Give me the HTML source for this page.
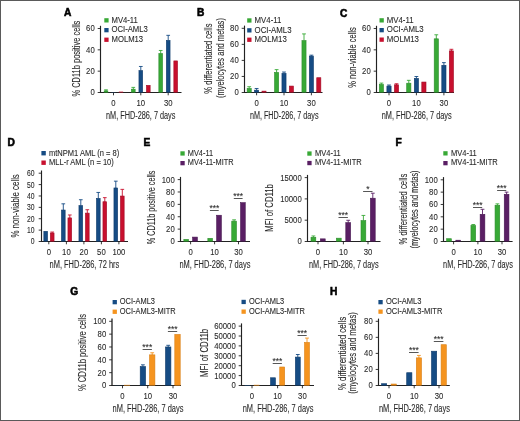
<!DOCTYPE html>
<html><head><meta charset="utf-8"><style>
html,body{margin:0;padding:0;background:#fff;}
body{width:520px;height:421px;overflow:hidden;}
svg{display:block;font-family:"Liberation Sans", sans-serif;will-change:transform;}
text{fill:#2a2a2a;font-variant-ligatures:none;stroke:#2a2a2a;stroke-width:0.1px;}
</style></head><body>
<svg width="520" height="421" viewBox="0 0 520 421">
<rect x="0" y="0" width="520" height="421" fill="#fff"/>
<text font-size="10.0" text-anchor="start" font-weight="bold" fill="#000" transform="translate(64.10 16.40) scale(1.02 1)" style="stroke:#000;stroke-width:0.55px;fill:#000">A</text>
<rect x="104.30" y="18.20" width="4.30" height="4.30" fill="#38a936"/>
<text font-size="8.2" text-anchor="start" transform="translate(111.50 22.60) scale(0.94 1)">MV4-11</text>
<rect x="104.30" y="28.00" width="4.30" height="4.30" fill="#164c84"/>
<text font-size="8.2" text-anchor="start" transform="translate(111.50 32.40) scale(0.94 1)">OCI-AML3</text>
<rect x="104.30" y="37.60" width="4.30" height="4.30" fill="#c8102e"/>
<text font-size="8.2" text-anchor="start" transform="translate(111.50 42.00) scale(0.94 1)">MOLM13</text>
<line x1="100.50" y1="25.80" x2="100.50" y2="93.00" stroke="#222" stroke-width="1.15"/>
<line x1="97.70" y1="92.50" x2="100.50" y2="92.50" stroke="#222" stroke-width="0.9"/>
<text font-size="9.2" text-anchor="end" transform="translate(94.70 95.44) scale(0.84 1)">0</text>
<line x1="97.70" y1="71.17" x2="100.50" y2="71.17" stroke="#222" stroke-width="0.9"/>
<text font-size="9.2" text-anchor="end" transform="translate(94.70 74.11) scale(0.84 1)">20</text>
<line x1="97.70" y1="49.83" x2="100.50" y2="49.83" stroke="#222" stroke-width="0.9"/>
<text font-size="9.2" text-anchor="end" transform="translate(94.70 52.78) scale(0.84 1)">40</text>
<line x1="97.70" y1="28.50" x2="100.50" y2="28.50" stroke="#222" stroke-width="0.9"/>
<text font-size="9.2" text-anchor="end" transform="translate(94.70 31.44) scale(0.84 1)">60</text>
<line x1="99.95" y1="92.50" x2="181.50" y2="92.50" stroke="#222" stroke-width="1.1"/>
<line x1="113.50" y1="92.50" x2="113.50" y2="95.30" stroke="#222" stroke-width="0.9"/>
<text font-size="9.2" text-anchor="middle" transform="translate(113.50 105.60) scale(0.84 1)">0</text>
<line x1="140.80" y1="92.50" x2="140.80" y2="95.30" stroke="#222" stroke-width="0.9"/>
<text font-size="9.2" text-anchor="middle" transform="translate(140.80 105.60) scale(0.84 1)">10</text>
<line x1="168.20" y1="92.50" x2="168.20" y2="95.30" stroke="#222" stroke-width="0.9"/>
<text font-size="9.2" text-anchor="middle" transform="translate(168.20 105.60) scale(0.84 1)">30</text>
<line x1="106.00" y1="89.83" x2="106.00" y2="91.08" stroke="#38a936" stroke-width="0.9"/>
<line x1="104.15" y1="89.83" x2="107.85" y2="89.83" stroke="#38a936" stroke-width="0.9"/>
<rect x="104.15" y="90.88" width="3.70" height="1.32" fill="#38a936" stroke="#2c8c2c" stroke-width="0.6"/>
<rect x="111.35" y="92.18" width="4.30" height="0.32" fill="#164c84"/>
<rect x="118.85" y="91.65" width="4.30" height="0.85" fill="#c8102e"/>
<line x1="133.30" y1="87.38" x2="133.30" y2="89.37" stroke="#38a936" stroke-width="0.9"/>
<line x1="131.45" y1="87.38" x2="135.15" y2="87.38" stroke="#38a936" stroke-width="0.9"/>
<rect x="131.45" y="89.17" width="3.70" height="3.03" fill="#38a936" stroke="#2c8c2c" stroke-width="0.6"/>
<line x1="140.80" y1="66.47" x2="140.80" y2="70.81" stroke="#164c84" stroke-width="0.9"/>
<line x1="138.95" y1="66.47" x2="142.65" y2="66.47" stroke="#164c84" stroke-width="0.9"/>
<rect x="138.95" y="70.61" width="3.70" height="21.59" fill="#164c84" stroke="#0e3a6a" stroke-width="0.6"/>
<rect x="146.45" y="85.33" width="3.70" height="6.87" fill="#c8102e" stroke="#a00c26" stroke-width="0.6"/>
<line x1="160.70" y1="50.47" x2="160.70" y2="53.75" stroke="#38a936" stroke-width="0.9"/>
<line x1="158.85" y1="50.47" x2="162.55" y2="50.47" stroke="#38a936" stroke-width="0.9"/>
<rect x="158.85" y="53.55" width="3.70" height="38.65" fill="#38a936" stroke="#2c8c2c" stroke-width="0.6"/>
<line x1="168.20" y1="35.33" x2="168.20" y2="40.63" stroke="#164c84" stroke-width="0.9"/>
<line x1="166.35" y1="35.33" x2="170.05" y2="35.33" stroke="#164c84" stroke-width="0.9"/>
<rect x="166.35" y="40.43" width="3.70" height="51.77" fill="#164c84" stroke="#0e3a6a" stroke-width="0.6"/>
<rect x="173.85" y="60.91" width="3.70" height="31.29" fill="#c8102e" stroke="#a00c26" stroke-width="0.6"/>
<text font-size="10" text-anchor="middle" textLength="69.40" lengthAdjust="spacingAndGlyphs" transform="translate(140.70 119.00)">nM, FHD-286, 7 days</text>
<text font-size="10.2" text-anchor="middle" textLength="75.90" lengthAdjust="spacingAndGlyphs" transform="translate(79.60 58.60) rotate(-90)">% CD11b positive cells</text>
<text font-size="10.0" text-anchor="start" font-weight="bold" fill="#000" transform="translate(197.10 16.00) scale(1.02 1)" style="stroke:#000;stroke-width:0.55px;fill:#000">B</text>
<rect x="247.20" y="18.30" width="4.30" height="4.30" fill="#38a936"/>
<text font-size="8.2" text-anchor="start" transform="translate(254.60 22.70) scale(0.955 1)">MV4-11</text>
<rect x="247.20" y="28.20" width="4.30" height="4.30" fill="#164c84"/>
<text font-size="8.2" text-anchor="start" transform="translate(254.60 32.60) scale(0.955 1)">OCI-AML3</text>
<rect x="247.20" y="37.60" width="4.30" height="4.30" fill="#c8102e"/>
<text font-size="8.2" text-anchor="start" transform="translate(254.60 42.00) scale(0.955 1)">MOLM13</text>
<line x1="244.50" y1="25.60" x2="244.50" y2="93.00" stroke="#222" stroke-width="1.15"/>
<line x1="241.70" y1="92.50" x2="244.50" y2="92.50" stroke="#222" stroke-width="0.9"/>
<text font-size="9.2" text-anchor="end" transform="translate(238.70 95.44) scale(0.84 1)">0</text>
<line x1="241.70" y1="76.45" x2="244.50" y2="76.45" stroke="#222" stroke-width="0.9"/>
<text font-size="9.2" text-anchor="end" transform="translate(238.70 79.39) scale(0.84 1)">20</text>
<line x1="241.70" y1="60.40" x2="244.50" y2="60.40" stroke="#222" stroke-width="0.9"/>
<text font-size="9.2" text-anchor="end" transform="translate(238.70 63.34) scale(0.84 1)">40</text>
<line x1="241.70" y1="44.35" x2="244.50" y2="44.35" stroke="#222" stroke-width="0.9"/>
<text font-size="9.2" text-anchor="end" transform="translate(238.70 47.29) scale(0.84 1)">60</text>
<line x1="241.70" y1="28.30" x2="244.50" y2="28.30" stroke="#222" stroke-width="0.9"/>
<text font-size="9.2" text-anchor="end" transform="translate(238.70 31.24) scale(0.84 1)">80</text>
<line x1="243.95" y1="92.50" x2="322.50" y2="92.50" stroke="#222" stroke-width="1.1"/>
<line x1="256.60" y1="92.50" x2="256.60" y2="95.30" stroke="#222" stroke-width="0.9"/>
<text font-size="9.2" text-anchor="middle" transform="translate(256.60 105.60) scale(0.84 1)">0</text>
<line x1="284.00" y1="92.50" x2="284.00" y2="95.30" stroke="#222" stroke-width="0.9"/>
<text font-size="9.2" text-anchor="middle" transform="translate(284.00 105.60) scale(0.84 1)">10</text>
<line x1="311.40" y1="92.50" x2="311.40" y2="95.30" stroke="#222" stroke-width="0.9"/>
<text font-size="9.2" text-anchor="middle" transform="translate(311.40 105.60) scale(0.84 1)">30</text>
<line x1="249.20" y1="86.72" x2="249.20" y2="88.67" stroke="#38a936" stroke-width="0.9"/>
<line x1="247.30" y1="86.72" x2="251.10" y2="86.72" stroke="#38a936" stroke-width="0.9"/>
<rect x="247.15" y="88.47" width="4.10" height="3.73" fill="#38a936" stroke="#2c8c2c" stroke-width="0.6"/>
<line x1="256.60" y1="88.49" x2="256.60" y2="90.35" stroke="#164c84" stroke-width="0.9"/>
<line x1="254.70" y1="88.49" x2="258.50" y2="88.49" stroke="#164c84" stroke-width="0.9"/>
<rect x="254.55" y="90.15" width="4.10" height="2.05" fill="#164c84" stroke="#0e3a6a" stroke-width="0.6"/>
<rect x="261.95" y="91.11" width="4.10" height="1.09" fill="#c8102e" stroke="#a00c26" stroke-width="0.6"/>
<line x1="276.60" y1="69.63" x2="276.60" y2="72.62" stroke="#38a936" stroke-width="0.9"/>
<line x1="274.70" y1="69.63" x2="278.50" y2="69.63" stroke="#38a936" stroke-width="0.9"/>
<rect x="274.55" y="72.42" width="4.10" height="19.78" fill="#38a936" stroke="#2c8c2c" stroke-width="0.6"/>
<line x1="284.00" y1="72.04" x2="284.00" y2="73.58" stroke="#164c84" stroke-width="0.9"/>
<line x1="282.10" y1="72.04" x2="285.90" y2="72.04" stroke="#164c84" stroke-width="0.9"/>
<rect x="281.95" y="73.38" width="4.10" height="18.82" fill="#164c84" stroke="#0e3a6a" stroke-width="0.6"/>
<rect x="289.35" y="86.06" width="4.10" height="6.14" fill="#c8102e" stroke="#a00c26" stroke-width="0.6"/>
<line x1="304.00" y1="33.92" x2="304.00" y2="40.84" stroke="#38a936" stroke-width="0.9"/>
<line x1="302.10" y1="33.92" x2="305.90" y2="33.92" stroke="#38a936" stroke-width="0.9"/>
<rect x="301.95" y="40.64" width="4.10" height="51.56" fill="#38a936" stroke="#2c8c2c" stroke-width="0.6"/>
<line x1="311.40" y1="55.18" x2="311.40" y2="56.33" stroke="#164c84" stroke-width="0.9"/>
<line x1="309.50" y1="55.18" x2="313.30" y2="55.18" stroke="#164c84" stroke-width="0.9"/>
<rect x="309.35" y="56.13" width="4.10" height="36.07" fill="#164c84" stroke="#0e3a6a" stroke-width="0.6"/>
<rect x="316.75" y="77.71" width="4.10" height="14.49" fill="#c8102e" stroke="#a00c26" stroke-width="0.6"/>
<text font-size="10" text-anchor="middle" textLength="68.60" lengthAdjust="spacingAndGlyphs" transform="translate(284.20 119.00)">nM, FHD-286, 7 days</text>
<text font-size="10.2" text-anchor="middle" textLength="70.20" lengthAdjust="spacingAndGlyphs" transform="translate(212.40 58.60) rotate(-90)">% differentiated cells</text>
<text font-size="10.2" text-anchor="middle" textLength="80.00" lengthAdjust="spacingAndGlyphs" transform="translate(223.50 58.10) rotate(-90)">(myelocytes and metas)</text>
<text font-size="10.0" text-anchor="start" font-weight="bold" fill="#000" transform="translate(340.10 16.60) scale(1.02 1)" style="stroke:#000;stroke-width:0.55px;fill:#000">C</text>
<rect x="379.50" y="18.20" width="4.30" height="4.30" fill="#38a936"/>
<text font-size="8.2" text-anchor="start" transform="translate(386.80 22.60) scale(0.955 1)">MV4-11</text>
<rect x="379.50" y="28.00" width="4.30" height="4.30" fill="#164c84"/>
<text font-size="8.2" text-anchor="start" transform="translate(386.80 32.40) scale(0.955 1)">OCI-AML3</text>
<rect x="379.50" y="37.50" width="4.30" height="4.30" fill="#c8102e"/>
<text font-size="8.2" text-anchor="start" transform="translate(386.80 41.90) scale(0.955 1)">MOLM13</text>
<line x1="376.50" y1="25.80" x2="376.50" y2="93.00" stroke="#222" stroke-width="1.15"/>
<line x1="373.70" y1="92.50" x2="376.50" y2="92.50" stroke="#222" stroke-width="0.9"/>
<text font-size="9.2" text-anchor="end" transform="translate(370.70 95.44) scale(0.84 1)">0</text>
<line x1="373.70" y1="71.17" x2="376.50" y2="71.17" stroke="#222" stroke-width="0.9"/>
<text font-size="9.2" text-anchor="end" transform="translate(370.70 74.11) scale(0.84 1)">20</text>
<line x1="373.70" y1="49.83" x2="376.50" y2="49.83" stroke="#222" stroke-width="0.9"/>
<text font-size="9.2" text-anchor="end" transform="translate(370.70 52.78) scale(0.84 1)">40</text>
<line x1="373.70" y1="28.50" x2="376.50" y2="28.50" stroke="#222" stroke-width="0.9"/>
<text font-size="9.2" text-anchor="end" transform="translate(370.70 31.44) scale(0.84 1)">60</text>
<line x1="375.95" y1="92.50" x2="454.00" y2="92.50" stroke="#222" stroke-width="1.1"/>
<line x1="389.00" y1="92.50" x2="389.00" y2="95.30" stroke="#222" stroke-width="0.9"/>
<text font-size="9.2" text-anchor="middle" transform="translate(389.00 105.60) scale(0.84 1)">0</text>
<line x1="416.40" y1="92.50" x2="416.40" y2="95.30" stroke="#222" stroke-width="0.9"/>
<text font-size="9.2" text-anchor="middle" transform="translate(416.40 105.60) scale(0.84 1)">10</text>
<line x1="443.90" y1="92.50" x2="443.90" y2="95.30" stroke="#222" stroke-width="0.9"/>
<text font-size="9.2" text-anchor="middle" transform="translate(443.90 105.60) scale(0.84 1)">30</text>
<line x1="381.40" y1="83.11" x2="381.40" y2="84.68" stroke="#38a936" stroke-width="0.9"/>
<line x1="379.50" y1="83.11" x2="383.30" y2="83.11" stroke="#38a936" stroke-width="0.9"/>
<rect x="379.30" y="84.48" width="4.20" height="7.72" fill="#38a936" stroke="#2c8c2c" stroke-width="0.6"/>
<line x1="389.00" y1="85.03" x2="389.00" y2="86.28" stroke="#164c84" stroke-width="0.9"/>
<line x1="387.10" y1="85.03" x2="390.90" y2="85.03" stroke="#164c84" stroke-width="0.9"/>
<rect x="386.90" y="86.08" width="4.20" height="6.12" fill="#164c84" stroke="#0e3a6a" stroke-width="0.6"/>
<line x1="396.50" y1="83.75" x2="396.50" y2="85.00" stroke="#c8102e" stroke-width="0.9"/>
<line x1="394.60" y1="83.75" x2="398.40" y2="83.75" stroke="#c8102e" stroke-width="0.9"/>
<rect x="394.40" y="84.80" width="4.20" height="7.40" fill="#c8102e" stroke="#a00c26" stroke-width="0.6"/>
<line x1="408.80" y1="80.34" x2="408.80" y2="83.40" stroke="#38a936" stroke-width="0.9"/>
<line x1="406.90" y1="80.34" x2="410.70" y2="80.34" stroke="#38a936" stroke-width="0.9"/>
<rect x="406.70" y="83.20" width="4.20" height="9.00" fill="#38a936" stroke="#2c8c2c" stroke-width="0.6"/>
<line x1="416.40" y1="76.50" x2="416.40" y2="78.60" stroke="#164c84" stroke-width="0.9"/>
<line x1="414.50" y1="76.50" x2="418.30" y2="76.50" stroke="#164c84" stroke-width="0.9"/>
<rect x="414.30" y="78.40" width="4.20" height="13.80" fill="#164c84" stroke="#0e3a6a" stroke-width="0.6"/>
<rect x="421.80" y="82.03" width="4.20" height="10.17" fill="#c8102e" stroke="#a00c26" stroke-width="0.6"/>
<line x1="436.30" y1="34.79" x2="436.30" y2="39.03" stroke="#38a936" stroke-width="0.9"/>
<line x1="434.40" y1="34.79" x2="438.20" y2="34.79" stroke="#38a936" stroke-width="0.9"/>
<rect x="434.20" y="38.83" width="4.20" height="53.37" fill="#38a936" stroke="#2c8c2c" stroke-width="0.6"/>
<line x1="443.90" y1="62.63" x2="443.90" y2="65.48" stroke="#164c84" stroke-width="0.9"/>
<line x1="442.00" y1="62.63" x2="445.80" y2="62.63" stroke="#164c84" stroke-width="0.9"/>
<rect x="441.80" y="65.28" width="4.20" height="26.92" fill="#164c84" stroke="#0e3a6a" stroke-width="0.6"/>
<line x1="451.40" y1="49.30" x2="451.40" y2="51.08" stroke="#c8102e" stroke-width="0.9"/>
<line x1="449.50" y1="49.30" x2="453.30" y2="49.30" stroke="#c8102e" stroke-width="0.9"/>
<rect x="449.30" y="50.88" width="4.20" height="41.32" fill="#c8102e" stroke="#a00c26" stroke-width="0.6"/>
<text font-size="10" text-anchor="middle" textLength="70.00" lengthAdjust="spacingAndGlyphs" transform="translate(416.70 119.00)">nM, FHD-286, 7 days</text>
<text font-size="10.2" text-anchor="middle" textLength="60.40" lengthAdjust="spacingAndGlyphs" transform="translate(355.60 57.55) rotate(-90)">% non-viable cells</text>
<text font-size="10.0" text-anchor="start" font-weight="bold" fill="#000" transform="translate(7.50 145.80) scale(1.02 1)" style="stroke:#000;stroke-width:0.55px;fill:#000">D</text>
<rect x="41.40" y="151.00" width="4.40" height="4.40" fill="#164c84"/>
<text font-size="8.2" text-anchor="start" transform="translate(49.00 155.50) scale(0.92 1)">mtNPM1 AML (n = 8)</text>
<rect x="41.40" y="160.50" width="4.40" height="4.40" fill="#c8102e"/>
<text font-size="8.2" text-anchor="start" transform="translate(49.00 165.00) scale(0.92 1)">MLL-r AML (n = 10)</text>
<line x1="41.50" y1="170.50" x2="41.50" y2="242.00" stroke="#222" stroke-width="1.15"/>
<line x1="38.70" y1="241.50" x2="41.50" y2="241.50" stroke="#222" stroke-width="0.9"/>
<text font-size="9.2" text-anchor="end" transform="translate(34.60 244.44) scale(0.74 1)">0</text>
<line x1="38.70" y1="230.12" x2="41.50" y2="230.12" stroke="#222" stroke-width="0.9"/>
<text font-size="9.2" text-anchor="end" transform="translate(34.60 233.06) scale(0.74 1)">10</text>
<line x1="38.70" y1="218.73" x2="41.50" y2="218.73" stroke="#222" stroke-width="0.9"/>
<text font-size="9.2" text-anchor="end" transform="translate(34.60 221.68) scale(0.74 1)">20</text>
<line x1="38.70" y1="207.35" x2="41.50" y2="207.35" stroke="#222" stroke-width="0.9"/>
<text font-size="9.2" text-anchor="end" transform="translate(34.60 210.29) scale(0.74 1)">30</text>
<line x1="38.70" y1="195.97" x2="41.50" y2="195.97" stroke="#222" stroke-width="0.9"/>
<text font-size="9.2" text-anchor="end" transform="translate(34.60 198.91) scale(0.74 1)">40</text>
<line x1="38.70" y1="184.58" x2="41.50" y2="184.58" stroke="#222" stroke-width="0.9"/>
<text font-size="9.2" text-anchor="end" transform="translate(34.60 187.53) scale(0.74 1)">50</text>
<line x1="38.70" y1="173.20" x2="41.50" y2="173.20" stroke="#222" stroke-width="0.9"/>
<text font-size="9.2" text-anchor="end" transform="translate(34.60 176.14) scale(0.74 1)">60</text>
<line x1="40.95" y1="241.50" x2="128.00" y2="241.50" stroke="#222" stroke-width="1.1"/>
<line x1="48.80" y1="241.50" x2="48.80" y2="244.30" stroke="#222" stroke-width="0.9"/>
<text font-size="9.2" text-anchor="middle" transform="translate(48.80 254.60) scale(0.84 1)">0</text>
<line x1="66.40" y1="241.50" x2="66.40" y2="244.30" stroke="#222" stroke-width="0.9"/>
<text font-size="9.2" text-anchor="middle" transform="translate(66.40 254.60) scale(0.84 1)">10</text>
<line x1="83.90" y1="241.50" x2="83.90" y2="244.30" stroke="#222" stroke-width="0.9"/>
<text font-size="9.2" text-anchor="middle" transform="translate(83.90 254.60) scale(0.84 1)">20</text>
<line x1="101.40" y1="241.50" x2="101.40" y2="244.30" stroke="#222" stroke-width="0.9"/>
<text font-size="9.2" text-anchor="middle" transform="translate(101.40 254.60) scale(0.84 1)">50</text>
<line x1="118.90" y1="241.50" x2="118.90" y2="244.30" stroke="#222" stroke-width="0.9"/>
<text font-size="9.2" text-anchor="middle" transform="translate(118.90 254.60) scale(0.84 1)">100</text>
<rect x="43.85" y="231.33" width="3.70" height="9.87" fill="#164c84" stroke="#0e3a6a" stroke-width="0.6"/>
<line x1="52.20" y1="232.05" x2="52.20" y2="233.23" stroke="#c8102e" stroke-width="0.9"/>
<line x1="50.35" y1="232.05" x2="54.05" y2="232.05" stroke="#c8102e" stroke-width="0.9"/>
<rect x="50.35" y="233.03" width="3.70" height="8.17" fill="#c8102e" stroke="#a00c26" stroke-width="0.6"/>
<line x1="63.30" y1="203.82" x2="63.30" y2="210.24" stroke="#164c84" stroke-width="0.9"/>
<line x1="61.45" y1="203.82" x2="65.15" y2="203.82" stroke="#164c84" stroke-width="0.9"/>
<rect x="61.45" y="210.04" width="3.70" height="31.16" fill="#164c84" stroke="#0e3a6a" stroke-width="0.6"/>
<line x1="69.80" y1="214.98" x2="69.80" y2="218.09" stroke="#c8102e" stroke-width="0.9"/>
<line x1="67.95" y1="214.98" x2="71.65" y2="214.98" stroke="#c8102e" stroke-width="0.9"/>
<rect x="67.95" y="217.90" width="3.70" height="23.30" fill="#c8102e" stroke="#a00c26" stroke-width="0.6"/>
<line x1="80.80" y1="199.72" x2="80.80" y2="205.80" stroke="#164c84" stroke-width="0.9"/>
<line x1="78.95" y1="199.72" x2="82.65" y2="199.72" stroke="#164c84" stroke-width="0.9"/>
<rect x="78.95" y="205.60" width="3.70" height="35.60" fill="#164c84" stroke="#0e3a6a" stroke-width="0.6"/>
<line x1="87.30" y1="209.74" x2="87.30" y2="213.31" stroke="#c8102e" stroke-width="0.9"/>
<line x1="85.45" y1="209.74" x2="89.15" y2="209.74" stroke="#c8102e" stroke-width="0.9"/>
<rect x="85.45" y="213.11" width="3.70" height="28.09" fill="#c8102e" stroke="#a00c26" stroke-width="0.6"/>
<line x1="98.30" y1="192.44" x2="98.30" y2="198.63" stroke="#164c84" stroke-width="0.9"/>
<line x1="96.45" y1="192.44" x2="100.15" y2="192.44" stroke="#164c84" stroke-width="0.9"/>
<rect x="96.45" y="198.43" width="3.70" height="42.77" fill="#164c84" stroke="#0e3a6a" stroke-width="0.6"/>
<line x1="104.80" y1="197.67" x2="104.80" y2="201.93" stroke="#c8102e" stroke-width="0.9"/>
<line x1="102.95" y1="197.67" x2="106.65" y2="197.67" stroke="#c8102e" stroke-width="0.9"/>
<rect x="102.95" y="201.73" width="3.70" height="39.47" fill="#c8102e" stroke="#a00c26" stroke-width="0.6"/>
<line x1="115.80" y1="181.17" x2="115.80" y2="188.16" stroke="#164c84" stroke-width="0.9"/>
<line x1="113.95" y1="181.17" x2="117.65" y2="181.17" stroke="#164c84" stroke-width="0.9"/>
<rect x="113.95" y="187.96" width="3.70" height="53.24" fill="#164c84" stroke="#0e3a6a" stroke-width="0.6"/>
<line x1="122.30" y1="189.36" x2="122.30" y2="196.24" stroke="#c8102e" stroke-width="0.9"/>
<line x1="120.45" y1="189.36" x2="124.15" y2="189.36" stroke="#c8102e" stroke-width="0.9"/>
<rect x="120.45" y="196.04" width="3.70" height="45.16" fill="#c8102e" stroke="#a00c26" stroke-width="0.6"/>
<text font-size="10" text-anchor="middle" textLength="69.80" lengthAdjust="spacingAndGlyphs" transform="translate(84.40 268.00)">nM, FHD-286, 72 hrs</text>
<text font-size="10.2" text-anchor="middle" textLength="63.40" lengthAdjust="spacingAndGlyphs" transform="translate(19.30 205.90) rotate(-90)">% non-viable cells</text>
<text font-size="10.0" text-anchor="start" font-weight="bold" fill="#000" transform="translate(143.50 145.80) scale(1.02 1)" style="stroke:#000;stroke-width:0.55px;fill:#000">E</text>
<rect x="180.40" y="151.30" width="4.30" height="4.30" fill="#38a936"/>
<text font-size="8.2" text-anchor="start" transform="translate(187.80 155.70) scale(0.9 1)">MV4-11</text>
<rect x="180.40" y="161.00" width="4.30" height="4.30" fill="#5a1f64"/>
<text font-size="8.2" text-anchor="start" transform="translate(187.80 165.40) scale(0.9 1)">MV4-11-MITR</text>
<line x1="180.50" y1="176.90" x2="180.50" y2="242.00" stroke="#222" stroke-width="1.15"/>
<line x1="177.70" y1="241.50" x2="180.50" y2="241.50" stroke="#222" stroke-width="0.9"/>
<text font-size="9.2" text-anchor="end" transform="translate(174.70 244.44) scale(0.84 1)">0</text>
<line x1="177.70" y1="229.12" x2="180.50" y2="229.12" stroke="#222" stroke-width="0.9"/>
<text font-size="9.2" text-anchor="end" transform="translate(174.70 232.06) scale(0.84 1)">20</text>
<line x1="177.70" y1="216.74" x2="180.50" y2="216.74" stroke="#222" stroke-width="0.9"/>
<text font-size="9.2" text-anchor="end" transform="translate(174.70 219.68) scale(0.84 1)">40</text>
<line x1="177.70" y1="204.36" x2="180.50" y2="204.36" stroke="#222" stroke-width="0.9"/>
<text font-size="9.2" text-anchor="end" transform="translate(174.70 207.30) scale(0.84 1)">60</text>
<line x1="177.70" y1="191.98" x2="180.50" y2="191.98" stroke="#222" stroke-width="0.9"/>
<text font-size="9.2" text-anchor="end" transform="translate(174.70 194.92) scale(0.84 1)">80</text>
<line x1="177.70" y1="179.60" x2="180.50" y2="179.60" stroke="#222" stroke-width="0.9"/>
<text font-size="9.2" text-anchor="end" transform="translate(174.70 182.54) scale(0.84 1)">100</text>
<line x1="179.95" y1="241.50" x2="250.00" y2="241.50" stroke="#222" stroke-width="1.1"/>
<line x1="190.60" y1="241.50" x2="190.60" y2="244.30" stroke="#222" stroke-width="0.9"/>
<text font-size="9.2" text-anchor="middle" transform="translate(190.60 255.00) scale(0.84 1)">0</text>
<line x1="214.60" y1="241.50" x2="214.60" y2="244.30" stroke="#222" stroke-width="0.9"/>
<text font-size="9.2" text-anchor="middle" transform="translate(214.60 255.00) scale(0.84 1)">10</text>
<line x1="238.50" y1="241.50" x2="238.50" y2="244.30" stroke="#222" stroke-width="0.9"/>
<text font-size="9.2" text-anchor="middle" transform="translate(238.50 255.00) scale(0.84 1)">30</text>
<rect x="183.85" y="239.39" width="4.70" height="1.81" fill="#38a936" stroke="#2c8c2c" stroke-width="0.6"/>
<rect x="192.65" y="237.10" width="4.70" height="4.10" fill="#5a1f64" stroke="#471650" stroke-width="0.6"/>
<rect x="207.85" y="238.33" width="4.70" height="2.87" fill="#38a936" stroke="#2c8c2c" stroke-width="0.6"/>
<rect x="216.65" y="215.24" width="4.70" height="25.96" fill="#5a1f64" stroke="#471650" stroke-width="0.6"/>
<line x1="234.10" y1="219.84" x2="234.10" y2="221.33" stroke="#38a936" stroke-width="0.9"/>
<line x1="232.20" y1="219.84" x2="236.00" y2="219.84" stroke="#38a936" stroke-width="0.9"/>
<rect x="231.75" y="221.13" width="4.70" height="20.07" fill="#38a936" stroke="#2c8c2c" stroke-width="0.6"/>
<rect x="240.55" y="202.68" width="4.70" height="38.52" fill="#5a1f64" stroke="#471650" stroke-width="0.6"/>
<line x1="209.90" y1="210.50" x2="218.70" y2="210.50" stroke="#444" stroke-width="0.9"/>
<text font-size="8.4" text-anchor="middle" fill="#333" transform="translate(214.30 211.00)">***</text>
<line x1="233.80" y1="198.50" x2="242.60" y2="198.50" stroke="#444" stroke-width="0.9"/>
<text font-size="8.4" text-anchor="middle" fill="#333" transform="translate(238.20 199.00)">***</text>
<text font-size="10" text-anchor="middle" textLength="71.00" lengthAdjust="spacingAndGlyphs" transform="translate(214.90 268.00)">nM, FHD-286, 7 days</text>
<text font-size="10.2" text-anchor="middle" textLength="73.50" lengthAdjust="spacingAndGlyphs" transform="translate(155.00 207.45) rotate(-90)">% CD11b positive cells</text>
<rect x="307.30" y="151.40" width="4.30" height="4.30" fill="#38a936"/>
<text font-size="8.2" text-anchor="start" transform="translate(315.00 155.80) scale(0.92 1)">MV4-11</text>
<rect x="307.30" y="160.90" width="4.30" height="4.30" fill="#5a1f64"/>
<text font-size="8.2" text-anchor="start" transform="translate(315.00 165.30) scale(0.92 1)">MV4-11-MITR</text>
<line x1="307.50" y1="174.90" x2="307.50" y2="242.00" stroke="#222" stroke-width="1.15"/>
<line x1="304.70" y1="241.50" x2="307.50" y2="241.50" stroke="#222" stroke-width="0.9"/>
<text font-size="9.2" text-anchor="end" transform="translate(301.70 244.44) scale(0.84 1)">0</text>
<line x1="304.70" y1="220.20" x2="307.50" y2="220.20" stroke="#222" stroke-width="0.9"/>
<text font-size="9.2" text-anchor="end" transform="translate(301.70 223.14) scale(0.84 1)">5000</text>
<line x1="304.70" y1="198.90" x2="307.50" y2="198.90" stroke="#222" stroke-width="0.9"/>
<text font-size="9.2" text-anchor="end" transform="translate(301.70 201.84) scale(0.84 1)">10000</text>
<line x1="304.70" y1="177.60" x2="307.50" y2="177.60" stroke="#222" stroke-width="0.9"/>
<text font-size="9.2" text-anchor="end" transform="translate(301.70 180.54) scale(0.84 1)">15000</text>
<line x1="306.95" y1="241.50" x2="380.50" y2="241.50" stroke="#222" stroke-width="1.1"/>
<line x1="318.00" y1="241.50" x2="318.00" y2="244.30" stroke="#222" stroke-width="0.9"/>
<text font-size="9.2" text-anchor="middle" transform="translate(318.00 255.00) scale(0.84 1)">0</text>
<line x1="343.40" y1="241.50" x2="343.40" y2="244.30" stroke="#222" stroke-width="0.9"/>
<text font-size="9.2" text-anchor="middle" transform="translate(343.40 255.00) scale(0.84 1)">10</text>
<line x1="368.00" y1="241.50" x2="368.00" y2="244.30" stroke="#222" stroke-width="0.9"/>
<text font-size="9.2" text-anchor="middle" transform="translate(368.00 255.00) scale(0.84 1)">30</text>
<line x1="313.40" y1="235.96" x2="313.40" y2="237.48" stroke="#38a936" stroke-width="0.9"/>
<line x1="311.50" y1="235.96" x2="315.30" y2="235.96" stroke="#38a936" stroke-width="0.9"/>
<rect x="311.00" y="237.28" width="4.80" height="3.92" fill="#38a936" stroke="#2c8c2c" stroke-width="0.6"/>
<rect x="320.40" y="238.86" width="4.80" height="2.34" fill="#5a1f64" stroke="#471650" stroke-width="0.6"/>
<rect x="336.40" y="238.18" width="4.80" height="3.02" fill="#38a936" stroke="#2c8c2c" stroke-width="0.6"/>
<line x1="348.20" y1="220.29" x2="348.20" y2="222.87" stroke="#5a1f64" stroke-width="0.9"/>
<line x1="346.30" y1="220.29" x2="350.10" y2="220.29" stroke="#5a1f64" stroke-width="0.9"/>
<rect x="345.80" y="222.67" width="4.80" height="18.53" fill="#5a1f64" stroke="#471650" stroke-width="0.6"/>
<line x1="363.40" y1="215.43" x2="363.40" y2="220.79" stroke="#38a936" stroke-width="0.9"/>
<line x1="361.50" y1="215.43" x2="365.30" y2="215.43" stroke="#38a936" stroke-width="0.9"/>
<rect x="361.00" y="220.59" width="4.80" height="20.61" fill="#38a936" stroke="#2c8c2c" stroke-width="0.6"/>
<line x1="372.80" y1="193.19" x2="372.80" y2="198.42" stroke="#5a1f64" stroke-width="0.9"/>
<line x1="370.90" y1="193.19" x2="374.70" y2="193.19" stroke="#5a1f64" stroke-width="0.9"/>
<rect x="370.40" y="198.22" width="4.80" height="42.98" fill="#5a1f64" stroke="#471650" stroke-width="0.6"/>
<line x1="338.50" y1="217.50" x2="347.90" y2="217.50" stroke="#444" stroke-width="0.9"/>
<text font-size="8.4" text-anchor="middle" fill="#333" transform="translate(343.20 218.00)">***</text>
<line x1="363.10" y1="191.50" x2="372.50" y2="191.50" stroke="#444" stroke-width="0.9"/>
<text font-size="8.4" text-anchor="middle" fill="#333" transform="translate(367.80 192.00)">*</text>
<text font-size="10" text-anchor="middle" textLength="69.50" lengthAdjust="spacingAndGlyphs" transform="translate(343.80 268.00)">nM, FHD-286, 7 days</text>
<text font-size="10.2" text-anchor="middle" textLength="47.50" lengthAdjust="spacingAndGlyphs" transform="translate(273.00 207.95) rotate(-90)">MFI of CD11b</text>
<text font-size="10.0" text-anchor="start" font-weight="bold" fill="#000" transform="translate(395.50 145.80) scale(1.02 1)" style="stroke:#000;stroke-width:0.55px;fill:#000">F</text>
<rect x="443.30" y="151.20" width="4.30" height="4.30" fill="#38a936"/>
<text font-size="8.2" text-anchor="start" transform="translate(451.00 155.60) scale(0.92 1)">MV4-11</text>
<rect x="443.30" y="161.00" width="4.30" height="4.30" fill="#5a1f64"/>
<text font-size="8.2" text-anchor="start" transform="translate(451.00 165.40) scale(0.92 1)">MV4-11-MITR</text>
<line x1="443.50" y1="177.10" x2="443.50" y2="242.00" stroke="#222" stroke-width="1.15"/>
<line x1="440.70" y1="241.50" x2="443.50" y2="241.50" stroke="#222" stroke-width="0.9"/>
<text font-size="9.2" text-anchor="end" transform="translate(437.70 244.44) scale(0.84 1)">0</text>
<line x1="440.70" y1="229.16" x2="443.50" y2="229.16" stroke="#222" stroke-width="0.9"/>
<text font-size="9.2" text-anchor="end" transform="translate(437.70 232.10) scale(0.84 1)">20</text>
<line x1="440.70" y1="216.82" x2="443.50" y2="216.82" stroke="#222" stroke-width="0.9"/>
<text font-size="9.2" text-anchor="end" transform="translate(437.70 219.76) scale(0.84 1)">40</text>
<line x1="440.70" y1="204.48" x2="443.50" y2="204.48" stroke="#222" stroke-width="0.9"/>
<text font-size="9.2" text-anchor="end" transform="translate(437.70 207.42) scale(0.84 1)">60</text>
<line x1="440.70" y1="192.14" x2="443.50" y2="192.14" stroke="#222" stroke-width="0.9"/>
<text font-size="9.2" text-anchor="end" transform="translate(437.70 195.08) scale(0.84 1)">80</text>
<line x1="440.70" y1="179.80" x2="443.50" y2="179.80" stroke="#222" stroke-width="0.9"/>
<text font-size="9.2" text-anchor="end" transform="translate(437.70 182.74) scale(0.84 1)">100</text>
<line x1="442.95" y1="241.50" x2="512.60" y2="241.50" stroke="#222" stroke-width="1.1"/>
<line x1="453.60" y1="241.50" x2="453.60" y2="244.30" stroke="#222" stroke-width="0.9"/>
<text font-size="9.2" text-anchor="middle" transform="translate(453.60 255.00) scale(0.84 1)">0</text>
<line x1="477.90" y1="241.50" x2="477.90" y2="244.30" stroke="#222" stroke-width="0.9"/>
<text font-size="9.2" text-anchor="middle" transform="translate(477.90 255.00) scale(0.84 1)">10</text>
<line x1="502.00" y1="241.50" x2="502.00" y2="244.30" stroke="#222" stroke-width="0.9"/>
<text font-size="9.2" text-anchor="middle" transform="translate(502.00 255.00) scale(0.84 1)">30</text>
<rect x="446.65" y="238.72" width="4.70" height="2.49" fill="#38a936" stroke="#2c8c2c" stroke-width="0.6"/>
<rect x="455.85" y="240.20" width="4.70" height="1.00" fill="#5a1f64" stroke="#471650" stroke-width="0.6"/>
<line x1="473.30" y1="224.53" x2="473.30" y2="225.65" stroke="#38a936" stroke-width="0.9"/>
<line x1="471.40" y1="224.53" x2="475.20" y2="224.53" stroke="#38a936" stroke-width="0.9"/>
<rect x="470.95" y="225.45" width="4.70" height="15.75" fill="#38a936" stroke="#2c8c2c" stroke-width="0.6"/>
<line x1="482.50" y1="209.29" x2="482.50" y2="214.54" stroke="#5a1f64" stroke-width="0.9"/>
<line x1="480.60" y1="209.29" x2="484.40" y2="209.29" stroke="#5a1f64" stroke-width="0.9"/>
<rect x="480.15" y="214.34" width="4.70" height="26.86" fill="#5a1f64" stroke="#471650" stroke-width="0.6"/>
<line x1="497.40" y1="203.86" x2="497.40" y2="205.47" stroke="#38a936" stroke-width="0.9"/>
<line x1="495.50" y1="203.86" x2="499.30" y2="203.86" stroke="#38a936" stroke-width="0.9"/>
<rect x="495.05" y="205.27" width="4.70" height="35.93" fill="#38a936" stroke="#2c8c2c" stroke-width="0.6"/>
<line x1="506.60" y1="192.14" x2="506.60" y2="194.49" stroke="#5a1f64" stroke-width="0.9"/>
<line x1="504.70" y1="192.14" x2="508.50" y2="192.14" stroke="#5a1f64" stroke-width="0.9"/>
<rect x="504.25" y="194.29" width="4.70" height="46.91" fill="#5a1f64" stroke="#471650" stroke-width="0.6"/>
<line x1="473.00" y1="207.50" x2="482.20" y2="207.50" stroke="#444" stroke-width="0.9"/>
<text font-size="8.4" text-anchor="middle" fill="#333" transform="translate(477.60 208.00)">***</text>
<line x1="497.10" y1="190.50" x2="506.30" y2="190.50" stroke="#444" stroke-width="0.9"/>
<text font-size="8.4" text-anchor="middle" fill="#333" transform="translate(501.70 191.00)">***</text>
<text font-size="10" text-anchor="middle" textLength="69.80" lengthAdjust="spacingAndGlyphs" transform="translate(478.00 268.00)">nM, FHD-286, 7 days</text>
<text font-size="10.2" text-anchor="middle" textLength="70.80" lengthAdjust="spacingAndGlyphs" transform="translate(407.00 209.00) rotate(-90)">% differentiated cells</text>
<text font-size="10.2" text-anchor="middle" textLength="78.00" lengthAdjust="spacingAndGlyphs" transform="translate(417.80 209.50) rotate(-90)">(myelocytes and metas)</text>
<text font-size="10.0" text-anchor="start" font-weight="bold" fill="#000" transform="translate(70.30 295.00) scale(1.02 1)" style="stroke:#000;stroke-width:0.55px;fill:#000">G</text>
<rect x="112.60" y="300.00" width="4.30" height="4.30" fill="#164c84"/>
<text font-size="8.2" text-anchor="start" transform="translate(119.80 304.40) scale(0.91 1)">OCI-AML3</text>
<rect x="112.60" y="309.60" width="4.30" height="4.30" fill="#f5941f"/>
<text font-size="8.2" text-anchor="start" transform="translate(119.80 314.00) scale(0.91 1)">OCI-AML3-MITR</text>
<line x1="112.00" y1="318.60" x2="112.00" y2="386.00" stroke="#222" stroke-width="1.3"/>
<line x1="109.20" y1="385.50" x2="112.00" y2="385.50" stroke="#222" stroke-width="0.9"/>
<text font-size="9.2" text-anchor="end" transform="translate(106.20 388.44) scale(0.84 1)">0</text>
<line x1="109.20" y1="372.66" x2="112.00" y2="372.66" stroke="#222" stroke-width="0.9"/>
<text font-size="9.2" text-anchor="end" transform="translate(106.20 375.60) scale(0.84 1)">20</text>
<line x1="109.20" y1="359.82" x2="112.00" y2="359.82" stroke="#222" stroke-width="0.9"/>
<text font-size="9.2" text-anchor="end" transform="translate(106.20 362.76) scale(0.84 1)">40</text>
<line x1="109.20" y1="346.98" x2="112.00" y2="346.98" stroke="#222" stroke-width="0.9"/>
<text font-size="9.2" text-anchor="end" transform="translate(106.20 349.92) scale(0.84 1)">60</text>
<line x1="109.20" y1="334.14" x2="112.00" y2="334.14" stroke="#222" stroke-width="0.9"/>
<text font-size="9.2" text-anchor="end" transform="translate(106.20 337.08) scale(0.84 1)">80</text>
<line x1="109.20" y1="321.30" x2="112.00" y2="321.30" stroke="#222" stroke-width="0.9"/>
<text font-size="9.2" text-anchor="end" transform="translate(106.20 324.24) scale(0.84 1)">100</text>
<line x1="111.45" y1="385.50" x2="181.00" y2="385.50" stroke="#222" stroke-width="1.1"/>
<line x1="122.50" y1="385.50" x2="122.50" y2="388.30" stroke="#222" stroke-width="0.9"/>
<text font-size="9.2" text-anchor="middle" transform="translate(122.50 399.40) scale(0.84 1)">0</text>
<line x1="147.70" y1="385.50" x2="147.70" y2="388.30" stroke="#222" stroke-width="0.9"/>
<text font-size="9.2" text-anchor="middle" transform="translate(147.70 399.40) scale(0.84 1)">10</text>
<line x1="173.00" y1="385.50" x2="173.00" y2="388.30" stroke="#222" stroke-width="0.9"/>
<text font-size="9.2" text-anchor="middle" transform="translate(173.00 399.40) scale(0.84 1)">30</text>
<rect x="114.70" y="385.31" width="6.00" height="0.19" fill="#164c84"/>
<rect x="124.00" y="384.86" width="6.00" height="0.64" fill="#f5941f"/>
<line x1="142.90" y1="364.83" x2="142.90" y2="366.74" stroke="#164c84" stroke-width="0.9"/>
<line x1="141.00" y1="364.83" x2="144.80" y2="364.83" stroke="#164c84" stroke-width="0.9"/>
<rect x="140.20" y="366.54" width="5.40" height="18.66" fill="#164c84" stroke="#0e3a6a" stroke-width="0.6"/>
<line x1="152.20" y1="352.76" x2="152.20" y2="355.06" stroke="#f5941f" stroke-width="0.9"/>
<line x1="150.30" y1="352.76" x2="154.10" y2="352.76" stroke="#f5941f" stroke-width="0.9"/>
<rect x="149.50" y="354.86" width="5.40" height="30.34" fill="#f5941f" stroke="#d97f14" stroke-width="0.6"/>
<line x1="168.20" y1="345.31" x2="168.20" y2="347.16" stroke="#164c84" stroke-width="0.9"/>
<line x1="166.30" y1="345.31" x2="170.10" y2="345.31" stroke="#164c84" stroke-width="0.9"/>
<rect x="165.50" y="346.96" width="5.40" height="38.24" fill="#164c84" stroke="#0e3a6a" stroke-width="0.6"/>
<rect x="174.80" y="334.44" width="5.40" height="50.76" fill="#f5941f" stroke="#d97f14" stroke-width="0.6"/>
<line x1="142.60" y1="349.50" x2="151.90" y2="349.50" stroke="#444" stroke-width="0.9"/>
<text font-size="8.4" text-anchor="middle" fill="#333" transform="translate(147.25 350.00)">***</text>
<line x1="167.90" y1="331.50" x2="177.20" y2="331.50" stroke="#444" stroke-width="0.9"/>
<text font-size="8.4" text-anchor="middle" fill="#333" transform="translate(172.55 332.00)">***</text>
<text font-size="10.6" text-anchor="middle" textLength="71.00" lengthAdjust="spacingAndGlyphs" transform="translate(148.00 412.40)">nM, FHD-286, 7 days</text>
<text font-size="10.2" text-anchor="middle" textLength="77.20" lengthAdjust="spacingAndGlyphs" transform="translate(85.80 352.45) rotate(-90)">% CD11b positive cells</text>
<rect x="241.50" y="299.80" width="4.30" height="4.30" fill="#164c84"/>
<text font-size="8.2" text-anchor="start" transform="translate(249.00 304.20) scale(0.91 1)">OCI-AML3</text>
<rect x="241.50" y="309.50" width="4.30" height="4.30" fill="#f5941f"/>
<text font-size="8.2" text-anchor="start" transform="translate(249.00 313.90) scale(0.91 1)">OCI-AML3-MITR</text>
<line x1="241.50" y1="323.40" x2="241.50" y2="386.00" stroke="#222" stroke-width="1.15"/>
<line x1="238.70" y1="385.50" x2="241.50" y2="385.50" stroke="#222" stroke-width="0.9"/>
<text font-size="9.2" text-anchor="end" transform="translate(235.70 388.44) scale(0.84 1)">0</text>
<line x1="238.70" y1="375.60" x2="241.50" y2="375.60" stroke="#222" stroke-width="0.9"/>
<text font-size="9.2" text-anchor="end" transform="translate(235.70 378.54) scale(0.84 1)">10000</text>
<line x1="238.70" y1="365.70" x2="241.50" y2="365.70" stroke="#222" stroke-width="0.9"/>
<text font-size="9.2" text-anchor="end" transform="translate(235.70 368.64) scale(0.84 1)">20000</text>
<line x1="238.70" y1="355.80" x2="241.50" y2="355.80" stroke="#222" stroke-width="0.9"/>
<text font-size="9.2" text-anchor="end" transform="translate(235.70 358.74) scale(0.84 1)">30000</text>
<line x1="238.70" y1="345.90" x2="241.50" y2="345.90" stroke="#222" stroke-width="0.9"/>
<text font-size="9.2" text-anchor="end" transform="translate(235.70 348.84) scale(0.84 1)">40000</text>
<line x1="238.70" y1="336.00" x2="241.50" y2="336.00" stroke="#222" stroke-width="0.9"/>
<text font-size="9.2" text-anchor="end" transform="translate(235.70 338.94) scale(0.84 1)">50000</text>
<line x1="238.70" y1="326.10" x2="241.50" y2="326.10" stroke="#222" stroke-width="0.9"/>
<text font-size="9.2" text-anchor="end" transform="translate(235.70 329.04) scale(0.84 1)">60000</text>
<line x1="240.95" y1="385.50" x2="314.00" y2="385.50" stroke="#222" stroke-width="1.1"/>
<line x1="252.00" y1="385.50" x2="252.00" y2="388.30" stroke="#222" stroke-width="0.9"/>
<text font-size="9.2" text-anchor="middle" transform="translate(252.00 399.40) scale(0.84 1)">0</text>
<line x1="277.60" y1="385.50" x2="277.60" y2="388.30" stroke="#222" stroke-width="0.9"/>
<text font-size="9.2" text-anchor="middle" transform="translate(277.60 399.40) scale(0.84 1)">10</text>
<line x1="302.40" y1="385.50" x2="302.40" y2="388.30" stroke="#222" stroke-width="0.9"/>
<text font-size="9.2" text-anchor="middle" transform="translate(302.40 399.40) scale(0.84 1)">30</text>
<rect x="244.65" y="385.00" width="5.50" height="0.50" fill="#164c84"/>
<rect x="253.85" y="384.81" width="5.50" height="0.69" fill="#f5941f"/>
<rect x="270.55" y="377.78" width="4.90" height="7.42" fill="#164c84" stroke="#0e3a6a" stroke-width="0.6"/>
<rect x="279.75" y="366.99" width="4.90" height="18.21" fill="#f5941f" stroke="#d97f14" stroke-width="0.6"/>
<line x1="297.80" y1="354.51" x2="297.80" y2="357.29" stroke="#164c84" stroke-width="0.9"/>
<line x1="295.90" y1="354.51" x2="299.70" y2="354.51" stroke="#164c84" stroke-width="0.9"/>
<rect x="295.35" y="357.09" width="4.90" height="28.11" fill="#164c84" stroke="#0e3a6a" stroke-width="0.6"/>
<line x1="307.00" y1="338.08" x2="307.00" y2="342.64" stroke="#f5941f" stroke-width="0.9"/>
<line x1="305.10" y1="338.08" x2="308.90" y2="338.08" stroke="#f5941f" stroke-width="0.9"/>
<rect x="304.55" y="342.44" width="4.90" height="42.76" fill="#f5941f" stroke="#d97f14" stroke-width="0.6"/>
<line x1="272.70" y1="363.50" x2="281.90" y2="363.50" stroke="#444" stroke-width="0.9"/>
<text font-size="8.4" text-anchor="middle" fill="#333" transform="translate(277.30 364.00)">***</text>
<line x1="297.50" y1="335.50" x2="306.70" y2="335.50" stroke="#444" stroke-width="0.9"/>
<text font-size="8.4" text-anchor="middle" fill="#333" transform="translate(302.10 336.00)">***</text>
<text font-size="10.6" text-anchor="middle" textLength="70.80" lengthAdjust="spacingAndGlyphs" transform="translate(278.10 412.40)">nM, FHD-286, 7 days</text>
<text font-size="10.2" text-anchor="middle" textLength="48.10" lengthAdjust="spacingAndGlyphs" transform="translate(207.50 352.85) rotate(-90)">MFI of CD11b</text>
<text font-size="10.0" text-anchor="start" font-weight="bold" fill="#000" transform="translate(329.90 294.80) scale(1.02 1)" style="stroke:#000;stroke-width:0.55px;fill:#000">H</text>
<rect x="378.40" y="300.00" width="4.30" height="4.30" fill="#164c84"/>
<text font-size="8.2" text-anchor="start" transform="translate(385.90 304.40) scale(0.92 1)">OCI-AML3</text>
<rect x="378.40" y="309.50" width="4.30" height="4.30" fill="#f5941f"/>
<text font-size="8.2" text-anchor="start" transform="translate(385.90 313.90) scale(0.92 1)">OCI-AML3-MITR</text>
<line x1="378.50" y1="318.60" x2="378.50" y2="386.00" stroke="#222" stroke-width="1.15"/>
<line x1="375.70" y1="385.50" x2="378.50" y2="385.50" stroke="#222" stroke-width="0.9"/>
<text font-size="9.2" text-anchor="end" transform="translate(372.70 388.44) scale(0.84 1)">0</text>
<line x1="375.70" y1="369.45" x2="378.50" y2="369.45" stroke="#222" stroke-width="0.9"/>
<text font-size="9.2" text-anchor="end" transform="translate(372.70 372.39) scale(0.84 1)">20</text>
<line x1="375.70" y1="353.40" x2="378.50" y2="353.40" stroke="#222" stroke-width="0.9"/>
<text font-size="9.2" text-anchor="end" transform="translate(372.70 356.34) scale(0.84 1)">40</text>
<line x1="375.70" y1="337.35" x2="378.50" y2="337.35" stroke="#222" stroke-width="0.9"/>
<text font-size="9.2" text-anchor="end" transform="translate(372.70 340.29) scale(0.84 1)">60</text>
<line x1="375.70" y1="321.30" x2="378.50" y2="321.30" stroke="#222" stroke-width="0.9"/>
<text font-size="9.2" text-anchor="end" transform="translate(372.70 324.24) scale(0.84 1)">80</text>
<line x1="377.95" y1="385.50" x2="449.80" y2="385.50" stroke="#222" stroke-width="1.1"/>
<line x1="389.00" y1="385.50" x2="389.00" y2="388.30" stroke="#222" stroke-width="0.9"/>
<text font-size="9.2" text-anchor="middle" transform="translate(389.00 399.40) scale(0.84 1)">0</text>
<line x1="414.20" y1="385.50" x2="414.20" y2="388.30" stroke="#222" stroke-width="0.9"/>
<text font-size="9.2" text-anchor="middle" transform="translate(414.20 399.40) scale(0.84 1)">10</text>
<line x1="439.00" y1="385.50" x2="439.00" y2="388.30" stroke="#222" stroke-width="0.9"/>
<text font-size="9.2" text-anchor="middle" transform="translate(439.00 399.40) scale(0.84 1)">30</text>
<rect x="381.50" y="383.71" width="5.20" height="1.49" fill="#164c84" stroke="#0e3a6a" stroke-width="0.6"/>
<rect x="391.10" y="384.03" width="5.20" height="1.17" fill="#f5941f" stroke="#d97f14" stroke-width="0.6"/>
<rect x="406.70" y="372.72" width="5.20" height="12.48" fill="#164c84" stroke="#0e3a6a" stroke-width="0.6"/>
<line x1="418.90" y1="355.41" x2="418.90" y2="358.07" stroke="#f5941f" stroke-width="0.9"/>
<line x1="417.00" y1="355.41" x2="420.80" y2="355.41" stroke="#f5941f" stroke-width="0.9"/>
<rect x="416.30" y="357.87" width="5.20" height="27.33" fill="#f5941f" stroke="#d97f14" stroke-width="0.6"/>
<rect x="431.50" y="351.21" width="5.20" height="33.99" fill="#164c84" stroke="#0e3a6a" stroke-width="0.6"/>
<rect x="441.10" y="344.71" width="5.20" height="40.49" fill="#f5941f" stroke="#d97f14" stroke-width="0.6"/>
<line x1="409.00" y1="352.50" x2="418.60" y2="352.50" stroke="#444" stroke-width="0.9"/>
<text font-size="8.4" text-anchor="middle" fill="#333" transform="translate(413.80 353.00)">***</text>
<line x1="433.80" y1="341.50" x2="443.40" y2="341.50" stroke="#444" stroke-width="0.9"/>
<text font-size="8.4" text-anchor="middle" fill="#333" transform="translate(438.60 342.00)">***</text>
<text font-size="10.6" text-anchor="middle" textLength="71.00" lengthAdjust="spacingAndGlyphs" transform="translate(414.40 412.40)">nM, FHD-286, 7 days</text>
<text font-size="10.2" text-anchor="middle" textLength="73.60" lengthAdjust="spacingAndGlyphs" transform="translate(345.60 353.50) rotate(-90)">% differentiated cells</text>
<text font-size="10.2" text-anchor="middle" textLength="81.60" lengthAdjust="spacingAndGlyphs" transform="translate(356.00 353.00) rotate(-90)">(myelocytes and metas)</text>
<rect x="0.5" y="0.5" width="519" height="420" fill="none" stroke="#5a5a5a" stroke-width="1"/>
</svg>
</body></html>
